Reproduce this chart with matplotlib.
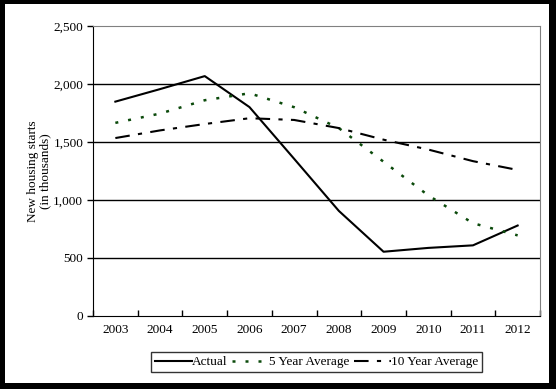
import matplotlib
matplotlib.use("Agg")
import matplotlib.pyplot as plt
from matplotlib.patches import Rectangle

years = ["2003", "2004", "2005", "2006", "2007", "2008", "2009", "2010", "2011", "2012"]
actual = [1848, 1956, 2068, 1801, 1355, 906, 554, 587, 609, 780]
avg5 = [1665, 1745, 1860, 1920, 1800, 1620, 1330, 1040, 800, 695]
avg10 = [1534, 1600, 1655, 1705, 1690, 1620, 1520, 1435, 1335, 1259]
yticks = [0, 500, 1000, 1500, 2000, 2500]
ylabels = ["0", "500", "1,000", "1,500", "2,000", "2,500"]

plt.rcParams['font.family'] = ['Liberation Serif', 'DejaVu Serif']
W, H = 556, 389
fig = plt.figure(figsize=(W / 100, H / 100), dpi=100)
fig.patch.set_facecolor('black')
fig.patches.append(Rectangle((5 / W, 1 - 383 / H), (549 - 5) / W, (383 - 4) / H,
                             transform=fig.transFigure, facecolor='white',
                             edgecolor='none', zorder=-10))

ax = fig.add_axes([93 / W, 1 - 316 / H, (540 - 93) / W, (316 - 26) / H])
ax.set_zorder(5)
ax.set_facecolor('white')
x = list(range(len(years)))
ax.plot(x, actual, color='black', lw=1.5, label='Actual', zorder=3)
ax.plot(x, avg5, color='#0b4a0b', lw=1.8, linestyle=(0, (1.2, 4)), label='5 Year Average', zorder=3)
ax.plot(x, avg10, color='black', lw=1.5, linestyle=(0, (7, 4, 2, 4)), label='10 Year Average', zorder=3)

ax.set_xlim(-0.5, len(years) - 0.5)
ax.set_ylim(0, 2500)
ax.set_yticks(yticks)
ax.set_yticklabels(ylabels, fontsize=9.5)
ax.set_xticks([i - 0.5 for i in range(len(years) + 1)], minor=False)
ax.set_xticklabels([])
ax.set_xticks(x, minor=True)
ax.set_xticklabels(years, minor=True, fontsize=9.5)
ax.tick_params(axis='x', which='minor', length=0, pad=6)
ax.tick_params(axis='x', which='major', length=4, direction='in', width=1)
ax.tick_params(axis='y', length=4, direction='out', width=1, pad=3)
for yv in yticks[1:-1]:
    ax.axhline(yv, color='black', lw=1, zorder=1)
ax.spines['top'].set_color('#808080')
ax.spines['right'].set_color('#808080')
ax.spines['left'].set_color('black')
ax.spines['bottom'].set_color('black')

ax.set_ylabel("New housing starts\n(in thousands)", fontsize=9.5, labelpad=1.5, linespacing=1.0)

leg = ax.legend(loc='upper center', bbox_to_anchor=(0.5, -0.125), ncol=3, frameon=True,
                fancybox=False, edgecolor='black', fontsize=9.5, handlelength=2.8,
                handletextpad=0.05, columnspacing=0.3, borderpad=0.3, borderaxespad=0.0)
leg.get_frame().set_linewidth(1)

fig.savefig("out.png", dpi=100, facecolor=fig.get_facecolor())
